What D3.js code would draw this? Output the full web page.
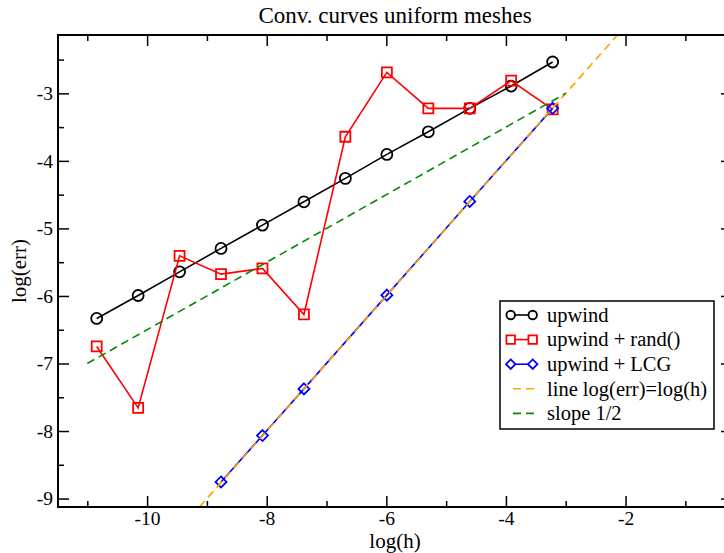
<!DOCTYPE html>
<html>
<head>
<meta charset="utf-8">
<script src="https://cdn.jsdelivr.net/npm/d3@7"></script>
<style>
  body { margin: 0; background: #fff; }
  svg { display: block; font-family: 'Liberation Serif', 'Times New Roman', serif; }
</style>
</head>
<body>
<div id="chart"></div>
<script>
// log(h) for h = 1/51200 ... 1/25
const logH = [-10.843, -10.150, -9.457, -8.764, -8.071, -7.378, -6.685, -5.991, -5.298, -4.605, -3.912, -3.219];
const upwind = [-6.333, -5.993, -5.643, -5.296, -4.951, -4.606, -4.259, -3.904, -3.569, -3.222, -2.892, -2.536];
const upwindRand = [-6.748, -7.658, -5.406, -5.677, -5.593, -6.274, -3.643, -2.689, -3.222, -3.222, -2.813, -3.237];
const lcgH = [-8.764, -8.071, -7.378, -5.991, -4.605, -3.219];
const lcgErr = [-8.754, -8.067, -7.376, -5.988, -4.600, -3.222];
const refLineX = [-11, 0];
const refLineY = [-11, 0];
const halfSlopeX = [-11, -3];
const halfSlopeY = [-7, -3];
const xTicks = [-10, -8, -6, -4, -2];
const yTicks = [-9, -8, -7, -6, -5, -4, -3];

const width = 724;
const height = 553;
const margin = { top: 35, right: -8, bottom: 46, left: 58 };
const innerW = width - margin.left - margin.right;
const innerH = height - margin.top - margin.bottom;

const x = d3.scaleLinear().domain([-11.49, -0.22]).range([0, innerW]);
const y = d3.scaleLinear().domain([-9.125, -2.136]).range([innerH, 0]);

const svg = d3.select('#chart')
  .append('svg')
  .attr('width', width)
  .attr('height', height);

svg.append('defs').append('clipPath')
  .attr('id', 'clip')
  .append('rect')
  .attr('width', innerW)
  .attr('height', innerH);

const g = svg.append('g')
  .attr('transform', `translate(${margin.left},${margin.top})`);

const xMinor = d3.range(-11, 0, 2);
const yMinor = d3.range(-9, -2, 1).map((v) => v + 0.5);
const fmt = (d) => String(d);

// axes: major ticks 11px, minor 6px, pointing inward on all four sides
const tickStyle = (sel) => {
  sel.select('.domain').remove();
  sel.selectAll('line').attr('stroke', '#000').attr('stroke-width', 1.5);
  sel.selectAll('text').attr('font-size', 19.5).attr('fill', '#000')
    .attr('font-family', "'Liberation Serif', serif");
};

g.append('g').attr('transform', `translate(0,${innerH})`)
  .call(d3.axisBottom(x).tickValues(xTicks).tickSizeInner(-11).tickSizeOuter(0).tickPadding(4).tickFormat(fmt))
  .call(tickStyle);
g.append('g').attr('transform', `translate(0,${innerH})`)
  .call(d3.axisBottom(x).tickValues(xMinor).tickSize(-6).tickFormat(''))
  .call(tickStyle);
g.append('g')
  .call(d3.axisTop(x).tickValues(xTicks).tickSize(-11).tickFormat(''))
  .call(tickStyle);
g.append('g')
  .call(d3.axisTop(x).tickValues(xMinor).tickSize(-6).tickFormat(''))
  .call(tickStyle);

g.append('g')
  .call(d3.axisLeft(y).tickValues(yTicks).tickSizeInner(-11).tickSizeOuter(0).tickPadding(5).tickFormat(fmt))
  .call(tickStyle);
g.append('g')
  .call(d3.axisLeft(y).tickValues(yMinor).tickSize(-6).tickFormat(''))
  .call(tickStyle);
g.append('g').attr('transform', `translate(${innerW},0)`)
  .call(d3.axisRight(y).tickValues(yTicks).tickSize(-11).tickFormat(''))
  .call(tickStyle);
g.append('g').attr('transform', `translate(${innerW},0)`)
  .call(d3.axisRight(y).tickValues(yMinor).tickSize(-6).tickFormat(''))
  .call(tickStyle);

const plot = g.append('g').attr('clip-path', 'url(#clip)');

const line = d3.line().x((d) => x(d[0])).y((d) => y(d[1]));

const series = [
  { name: 'upwind', color: '#000000', marker: 'circle', pts: d3.zip(logH, upwind) },
  { name: 'upwind + rand()', color: '#ff0000', marker: 'square', pts: d3.zip(logH, upwindRand) },
  { name: 'upwind + LCG', color: '#0000ff', marker: 'diamond', pts: d3.zip(lcgH, lcgErr) },
  { name: 'line log(err)=log(h)', color: '#ffa500', dash: true, pts: d3.zip(refLineX, refLineY) },
  { name: 'slope 1/2', color: '#008b00', dash: true, pts: d3.zip(halfSlopeX, halfSlopeY) },
];

const markerSize = { circle: 11, square: 10, diamond: 10 };

const markerPath = (type, size) => {
  if (type === 'circle') return d3.symbol(d3.symbolCircle, Math.PI * size * size / 4)();
  if (type === 'square') return d3.symbol(d3.symbolSquare, size * size)();
  const h = size / 2 + 0.5;
  return `M0,${-h}L${h},0L0,${h}L${-h},0Z`;
};

series.forEach((s) => {
  plot.append('path')
    .datum(s.pts)
    .attr('fill', 'none')
    .attr('stroke', s.color)
    .attr('stroke-width', 1.6)
    .attr('stroke-dasharray', s.dash ? '8,5' : null)
    .attr('d', line);
  if (s.marker) {
    plot.append('g')
      .selectAll('path')
      .data(s.pts)
      .join('path')
      .attr('transform', (d) => `translate(${x(d[0])},${y(d[1])})`)
      .attr('d', markerPath(s.marker, markerSize[s.marker]))
      .attr('fill', 'none')
      .attr('stroke', s.color)
      .attr('stroke-width', 1.8);
  }
});

// frame
g.append('rect')
  .attr('width', innerW)
  .attr('height', innerH)
  .attr('fill', 'none')
  .attr('stroke', '#000')
  .attr('stroke-width', 2);

// legend
const legend = g.append('g').attr('transform', `translate(${500 - margin.left},${301 - margin.top})`);
legend.append('rect')
  .attr('width', 214)
  .attr('height', 128)
  .attr('fill', '#fff')
  .attr('stroke', '#000')
  .attr('stroke-width', 1.5);

const rows = legend.selectAll('g.row')
  .data(series)
  .join('g')
  .attr('class', 'row')
  .attr('transform', (d, i) => `translate(0,${14 + i * 24.6})`);

rows.append('line')
  .attr('x1', 11)
  .attr('x2', 33)
  .attr('stroke', (d) => d.color)
  .attr('stroke-width', 1.6)
  .attr('stroke-dasharray', (d) => (d.dash ? '8,5' : null))
  .filter((d) => d.dash)
  .attr('x1', 13)
  .attr('x2', 36);

rows.filter((d) => d.marker)
  .selectAll('path')
  .data((d) => [[10.7, d], [32.7, d]])
  .join('path')
  .attr('transform', (p) => `translate(${p[0]},0)`)
  .attr('d', (p) => markerPath(p[1].marker, 8.5))
  .attr('fill', '#fff')
  .attr('stroke', (p) => p[1].color)
  .attr('stroke-width', 1.8);

rows.append('text')
  .attr('x', 47)
  .attr('dy', '0.33em')
  .attr('font-size', 20.5)
  .text((d) => d.name);

// titles
svg.append('text')
  .attr('x', margin.left + innerW / 2)
  .attr('y', 23)
  .attr('text-anchor', 'middle')
  .attr('font-size', 23)
  .text('Conv. curves uniform meshes');

svg.append('text')
  .attr('x', margin.left + innerW / 2)
  .attr('y', 548)
  .attr('text-anchor', 'middle')
  .attr('font-size', 21)
  .text('log(h)');

svg.append('text')
  .attr('transform', `translate(26,${margin.top + innerH / 2}) rotate(-90)`)
  .attr('text-anchor', 'middle')
  .attr('font-size', 21)
  .text('log(err)');
</script>
</body>
</html>
